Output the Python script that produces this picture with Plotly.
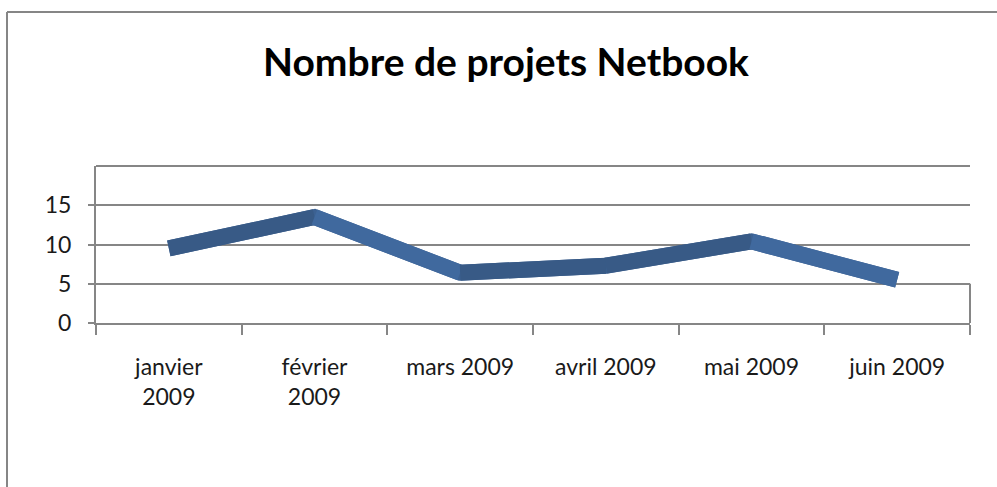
import plotly.graph_objects as go

# Data
months = ["janvier<br>2009", "février<br>2009", "mars 2009", "avril 2009", "mai 2009", "juin 2009"]
projets = [9.5, 13.5, 6.4, 7.3, 10.4, 5.5]
y_ticks = [0, 5, 10, 15]

W, H = 997, 487
left, right, top, bottom = 96, 27, 166, 164
grey = "#868686"

fig = go.Figure()

# Base ribbon, so the joints between segments have no seams
fig.add_trace(go.Scatter(
    x=months, y=projets, mode="lines",
    line=dict(color="#3c6192", width=16),
    hoverinfo="skip", showlegend=False,
))

# Segments on top: rising parts darker, falling parts lighter
for i in range(len(months) - 1):
    rising = projets[i + 1] >= projets[i]
    fig.add_trace(go.Scatter(
        x=months[i:i + 2], y=projets[i:i + 2],
        mode="lines",
        line=dict(color="#385a86" if rising else "#40699e", width=16),
        hoverinfo="skip", showlegend=False,
    ))

# Plot width/height in px, used to place the outer frame in paper units
pw = W - left - right
ph = H - top - bottom

fig.update_layout(
    width=W, height=H,
    margin=dict(l=left, r=right, t=top, b=bottom, autoexpand=False),
    paper_bgcolor="white", plot_bgcolor="white",
    font=dict(family="Lato", color="#000000", size=23),
    title=dict(text="<b>Nombre de projets Netbook</b>", x=(506 - left) / pw, xref="paper",
               xanchor="center", y=1 - 62 / H, yanchor="middle",
               font=dict(size=39, family="Lato")),
    shapes=[
        # outer chart frame (top and left edges visible)
        dict(type="line", xref="paper", yref="paper", x0=(7 - left) / pw, x1=(W + 20 - left) / pw,
             y0=(H - bottom - 12) / ph, y1=(H - bottom - 12) / ph, line=dict(color=grey, width=2)),
        dict(type="line", xref="paper", yref="paper", x0=(7 - left) / pw, x1=(7 - left) / pw,
             y0=(H - bottom - 12) / ph, y1=-(bottom + 20) / ph, line=dict(color=grey, width=2)),
        # top edge of the back wall
        dict(type="line", xref="paper", yref="paper", x0=0, x1=1, y0=1, y1=1,
             line=dict(color=grey, width=2)),
        # short right edge of the floor
        dict(type="line", xref="paper", yref="y", x0=1, x1=1, y0=0, y1=5,
             line=dict(color=grey, width=2)),
    ],
)

fig.update_xaxes(
    type="category", tickson="boundaries", range=[-0.5, len(months) - 0.5],
    ticks="outside", ticklen=10, tickwidth=2, tickcolor=grey,
    showline=True, linecolor=grey, linewidth=2,
    showgrid=False, zeroline=False, automargin=False,
    ticklabelstandoff=22,
    tickfont=dict(size=23, family="Lato", color="#1a1a1a"),
)
fig.update_yaxes(
    range=[0, 20], tickvals=y_ticks,
    ticks="outside", ticklen=6, tickwidth=2, tickcolor=grey,
    showline=True, linecolor=grey, linewidth=2,
    showgrid=True, gridcolor=grey, gridwidth=2,
    zeroline=False, automargin=False, ticklabelstandoff=12,
    tickfont=dict(size=23, family="Lato", color="#1a1a1a"),
)

# remove the default page margin so the figure sits at the window's corner
fig.write_html("out.html", config={"displayModeBar": False},
               post_script="document.body.style.margin = '0';")
